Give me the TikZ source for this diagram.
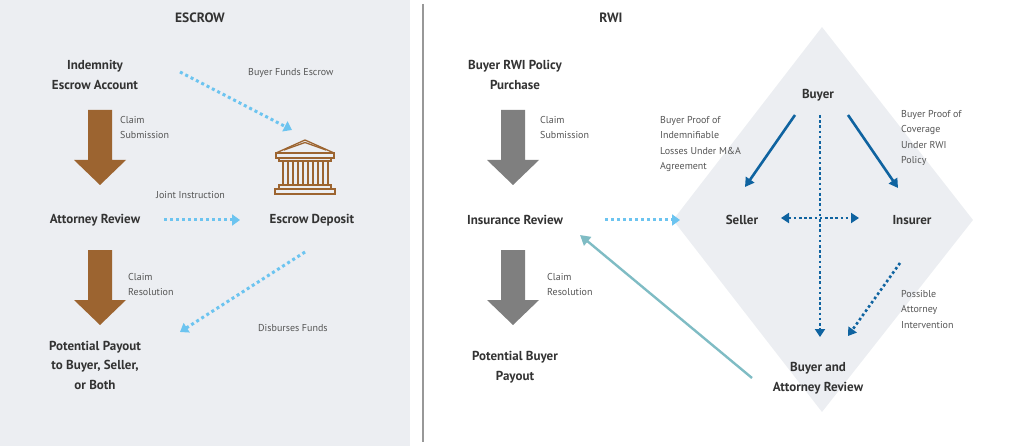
\documentclass[tikz,border=0pt]{standalone}
\usepackage{fontspec}
\setmainfont{PT Sans}
\usetikzlibrary{arrows.meta}
\definecolor{panel}{HTML}{ECEEF2}
\definecolor{brownA}{HTML}{9C6430}
\definecolor{grayA}{HTML}{7F7F7F}
\definecolor{lblue}{HTML}{6CC4F0}
\definecolor{dblue}{HTML}{0F63A0}
\definecolor{teal}{HTML}{7FBCC4}
\definecolor{txt}{HTML}{333333}
\definecolor{lab}{HTML}{555555}
\begin{document}
\begin{tikzpicture}[x=1pt,y=-1pt,
  head/.style={font=\bfseries\fontsize{13}{19.5}\selectfont,text=txt,align=center},
  title/.style={font=\bfseries\fontsize{13.5}{15}\selectfont,text=txt},
  lbl/.style={font=\fontsize{10}{15.5}\selectfont,text=lab,align=left,anchor=north west,inner sep=0},
  ldot/.style={lblue,line width=3pt,dash pattern=on 3pt off 3pt,-{Triangle[length=8pt,width=11pt]}},
  ddot/.style={dblue,line width=2.6pt,dash pattern=on 2.6pt off 2.6pt,-{Triangle[length=8pt,width=10pt]}},
  dsol/.style={dblue,line width=2.6pt,-{Triangle[length=9pt,width=10pt]}}]
\useasboundingbox (0,0) rectangle (1024,446);
\fill[panel] (0,0) rectangle (410,446);
\draw[grayA!80,line width=1.6pt] (423,4) -- (423,442);
\fill[panel] (822,27) -- (973,220) -- (822,412) -- (673,220) -- cycle;

% left panel
\node[title] (esc) at (200,18) {ESCROW};
\node[head] (iea) at (95,75) {Indemnity\\Escrow Account};
\fill[brownA] (88,110) -- (112,110) -- (112,160) -- (126,160) -- (100,185) -- (74,160) -- (88,160) -- cycle;
\node[lbl] (cs1) at (120,116) {Claim\\Submission};
\node[head] (ar) at (95,220) {Attorney Review};
\node[lbl] (ji) at (156,191) {Joint Instruction};
\node[head] (ed) at (312,220) {Escrow Deposit};
\coordinate (edt) at (292,130);
\draw[ldot] (180,72) -- (edt);
\node[lbl] (bfe) at (248,68) {Buyer Funds Escrow};
\draw[ldot] (164,220) -- (240,220);
\fill[brownA] (88,250) -- (112,250) -- (112,300) -- (126,300) -- (100,325) -- (74,300) -- (88,300) -- cycle;
\node[lbl] (cr1) at (128,273) {Claim\\Resolution};
\node[head] (pp) at (95,365) {Potential Payout\\to Buyer, Seller,\\or Both};
\draw[ldot] (305,252) -- (180,332);
\node[lbl] (df) at (258,324) {Disburses Funds};
% bank icon
\begin{scope}[brownA,line width=1.3pt]
\draw (276,153) -- (305,140) -- (334,153);
\draw (284,150) -- (305,142.5) -- (326,150);
\draw (276,153) rectangle (334,158);
\draw (279,158) rectangle (331,161);
\foreach \c in {283,293,303,313,323} \draw (\c,161) rectangle (\c+5,185);
\draw (279,185) rectangle (331,189);
\draw (275,189) rectangle (335,194);
\end{scope}

% right panel
\node[title] (rwi) at (611,18) {RWI};
\node[head] (brp) at (515,75) {Buyer RWI Policy\\Purchase};
\fill[grayA] (501,110) -- (525,110) -- (525,160) -- (539,160) -- (513,185) -- (487,160) -- (501,160) -- cycle;
\node[lbl] (cs2) at (540,116) {Claim\\Submission};
\node[head] (ir) at (515,220) {Insurance Review};
\draw[ldot] (605,220) -- (680,220);
\fill[grayA] (501,250) -- (525,250) -- (525,300) -- (539,300) -- (513,325) -- (487,300) -- (501,300) -- cycle;
\node[lbl] (cr2) at (547,273) {Claim\\Resolution};
\node[head] (pbp) at (515,367) {Potential Buyer\\Payout};

\node[head] (buyer) at (818,95) {Buyer};
\node[head] (seller) at (742,220) {Seller};
\node[head] (ins) at (912,220) {Insurer};
\node[head] (bar) at (818,378) {Buyer and\\Attorney Review};
\draw[dsol] (795,115) -- (745,187);
\draw[dsol] (848,115) -- (898,188);
\draw[ddot] (820,115) -- (820,337);
\draw[ddot,{Triangle[length=8pt,width=10pt]}-{Triangle[length=8pt,width=10pt]}] (781,218) -- (859,218);
\draw[ddot] (900,263) -- (848,336);
\draw[teal,line width=2.4pt,-{Triangle[length=10pt,width=11pt]}] (752,378) -- (580,235);
\node[lbl] (l1) at (660,116) {Buyer Proof of\\Indemnifiable\\Losses Under M\&A\\Agreement};
\node[lbl] (l2) at (901,110) {Buyer Proof of\\Coverage\\Under RWI\\Policy};
\node[lbl] (l3) at (901,290) {Possible\\Attorney\\Intervention};
\end{tikzpicture}
\end{document}
